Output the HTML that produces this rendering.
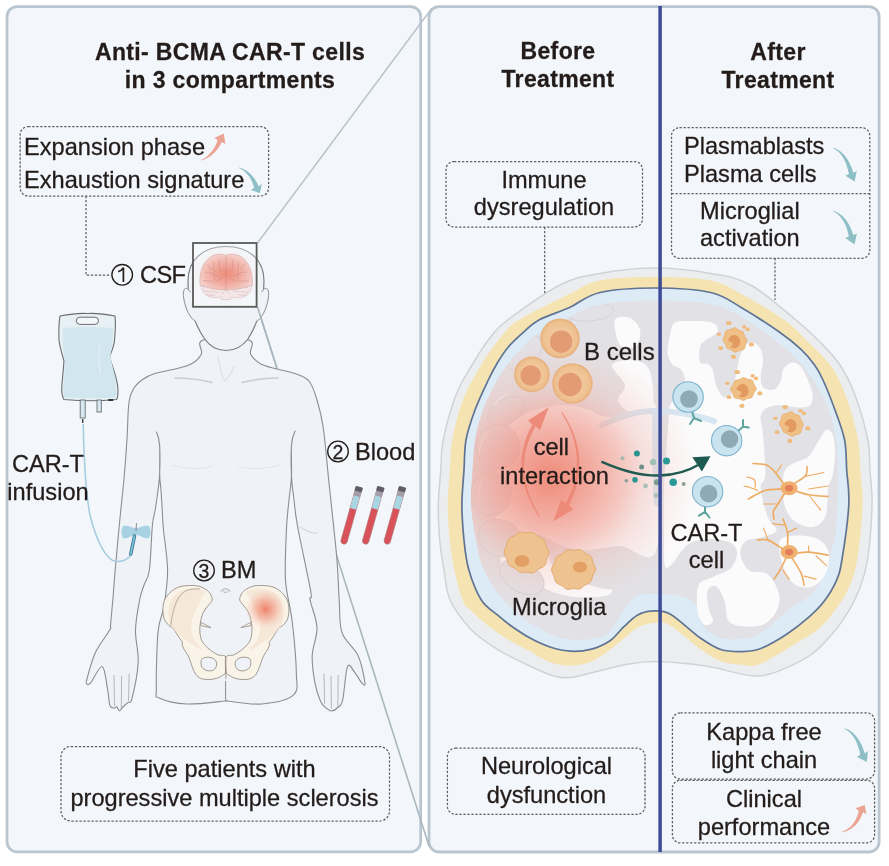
<!DOCTYPE html>
<html><head><meta charset="utf-8">
<style>
html,body{margin:0;padding:0;background:#fff;}
body{width:889px;height:866px;overflow:hidden;}
svg{display:block;}
text{font-family:"Liberation Sans",sans-serif;fill:#231c1a;stroke:#231c1a;stroke-width:0.28px;}
.b{font-weight:bold;letter-spacing:0.35px;}
</style></head><body>
<svg width="889" height="866" viewBox="0 0 889 866" style="will-change:transform">
<defs>
<radialGradient id="glowL" cx="0.5" cy="0.5" r="0.5">
 <stop offset="0" stop-color="#ef8472" stop-opacity="0.8"/>
 <stop offset="0.5" stop-color="#f09080" stop-opacity="0.4"/>
 <stop offset="1" stop-color="#f3a395" stop-opacity="0"/>
</radialGradient>
<radialGradient id="glowSoft" cx="0.5" cy="0.5" r="0.5">
 <stop offset="0" stop-color="#f19585" stop-opacity="0.75"/>
 <stop offset="0.5" stop-color="#f2a497" stop-opacity="0.45"/>
 <stop offset="1" stop-color="#f4c0b6" stop-opacity="0"/>
</radialGradient>
<radialGradient id="glowB" cx="0.5" cy="0.5" r="0.5">
 <stop offset="0" stop-color="#ee7a68" stop-opacity="0.95"/>
 <stop offset="0.5" stop-color="#f29c8a" stop-opacity="0.55"/>
 <stop offset="1" stop-color="#f6c8c0" stop-opacity="0"/>
</radialGradient>
<radialGradient id="glowP" cx="0.5" cy="0.5" r="0.5">
 <stop offset="0" stop-color="#ef8068" stop-opacity="1"/>
 <stop offset="0.5" stop-color="#f2a58f" stop-opacity="0.6"/>
 <stop offset="1" stop-color="#f6d6c6" stop-opacity="0"/>
</radialGradient>
<radialGradient id="boxGlow" cx="0.5" cy="0.5" r="0.5">
 <stop offset="0" stop-color="#f6dcd8" stop-opacity="0.9"/>
 <stop offset="1" stop-color="#f6e4e4" stop-opacity="0"/>
</radialGradient>
<radialGradient id="cereG" cx="0.5" cy="0.55" r="0.62" fx="0.5" fy="0.55">
 <stop offset="0" stop-color="#ee8b79"/>
 <stop offset="0.45" stop-color="#f1ab9f"/>
 <stop offset="1" stop-color="#f5dbd7"/>
</radialGradient>
<radialGradient id="cellG" cx="0.5" cy="0.5" r="0.5">
 <stop offset="0.5" stop-color="#f1c89b"/>
 <stop offset="0.85" stop-color="#eec08f"/>
 <stop offset="1" stop-color="#e7ae7a"/>
</radialGradient>
</defs>
<rect x="7" y="6.6" width="413.7" height="845.2" rx="10" fill="#f3f7fb" stroke="#b9c5cf" stroke-width="2.8"/>
<rect x="429" y="6.6" width="450.1" height="845.4" rx="10" fill="#f3f7fb" stroke="#b9c5cf" stroke-width="2.8"/>
<path d="M257.5,243 L432,8" stroke="#b6c3cc" stroke-width="1.4"/>
<path d="M257.5,307 L429,846" stroke="#aab7c0" stroke-width="1.6"/>
<path d="M203.2,340.0 C195.3,342.3 203.3,349.9 201.4,353.9 C199.5,357.8 196.0,361.2 191.6,363.7 C187.2,366.2 181.2,367.4 175.0,369.0 C168.8,370.6 160.0,371.8 154.7,373.5 C149.4,375.2 146.4,376.9 143.0,379.3 C139.6,381.7 136.3,384.2 134.0,388.0 C131.7,391.8 130.2,393.5 129.0,402.0 C127.8,410.5 127.8,426.2 127.0,439.0 C126.2,451.8 125.2,465.3 124.0,478.5 C122.8,491.7 121.5,502.8 120.0,518.0 C118.5,533.2 116.4,556.3 115.2,570.0 C114.0,583.7 113.6,590.8 112.8,600.0 C112.0,609.2 111.0,620.0 110.5,625.0 C110.0,630.0 112.3,625.2 109.8,629.8 C107.3,634.4 99.1,644.5 95.3,652.7 C91.5,660.9 88.4,673.9 86.9,679.0 C85.5,684.1 86.0,682.8 86.6,683.5 C87.2,684.2 87.8,686.0 90.4,683.2 C93.0,680.4 99.3,665.5 102.2,666.6 C105.1,667.7 106.4,683.5 107.7,690.0 C109.0,696.5 108.8,702.4 109.8,705.4 C110.8,708.4 112.8,707.8 114.0,708.0 C115.2,708.2 115.8,706.3 116.7,706.8 C117.6,707.3 118.6,710.9 119.5,711.0 C120.4,711.1 120.9,708.9 122.3,707.5 C123.7,706.1 126.2,704.1 127.8,702.6 C129.4,701.1 130.3,705.1 132.0,698.4 C133.7,691.7 137.6,673.7 138.2,662.4 C138.8,651.1 135.3,640.9 135.5,630.5 C135.7,620.1 138.2,607.6 139.6,600.0 C141.0,592.4 142.4,590.0 144.0,585.0 C145.6,580.0 148.0,580.0 149.4,570.0 C150.8,560.0 151.4,535.0 152.4,525.0 C153.4,515.0 154.3,515.8 155.2,510.0 C156.1,504.2 157.3,495.8 158.0,490.0 C158.7,484.2 159.3,482.5 159.6,475.0 C159.9,467.5 160.1,452.2 159.6,445.0 C159.1,437.8 156.5,432.0 156.5,432.0 C156.5,432.0 159.1,437.8 159.6,445.0 C160.1,452.2 159.5,467.5 159.7,475.0 C159.9,482.5 160.6,484.2 161.0,490.0 C161.4,495.8 161.8,503.3 162.2,510.0 C162.6,516.7 162.6,520.0 163.5,530.0 C164.4,540.0 167.5,557.3 167.6,570.0 C167.7,582.7 165.6,595.7 164.0,606.0 C162.4,616.3 159.3,618.2 158.0,632.0 C156.7,645.8 156.1,678.0 156.3,689.0 C156.5,700.0 154.1,695.5 159.2,698.0 C164.3,700.5 175.9,703.5 187.0,704.0 C198.1,704.5 218.9,701.5 225.6,701.0 C232.3,700.5 220.9,700.5 227.0,701.0 C233.1,701.5 250.9,705.0 262.0,704.0 C273.1,703.0 287.7,700.5 293.4,695.2 C299.1,689.9 296.5,684.5 296.3,672.0 C296.1,659.5 293.8,635.3 292.0,620.0 C290.2,604.7 286.4,595.5 285.5,580.0 C284.6,564.5 286.0,540.3 286.6,527.0 C287.2,513.7 288.2,508.5 289.0,500.0 C289.8,491.5 291.1,485.2 291.5,476.0 C291.9,466.8 290.9,452.5 291.5,445.0 C292.1,437.5 295.0,431.0 295.0,431.0 C295.0,431.0 292.1,437.5 291.5,445.0 C290.9,452.5 291.1,466.8 291.5,476.0 C291.9,485.2 293.0,491.5 294.0,500.0 C295.0,508.5 294.9,511.8 297.7,527.0 C300.5,542.2 308.6,578.8 310.7,591.0 C312.8,603.2 309.1,593.9 310.1,600.0 C311.2,606.1 316.6,618.5 317.0,627.7 C317.4,637.0 312.5,646.2 312.2,655.5 C311.9,664.8 313.6,675.6 315.0,683.2 C316.4,690.8 318.7,697.1 320.5,701.2 C322.3,705.3 324.1,706.4 326.0,708.0 C327.9,709.6 329.6,711.1 331.6,711.0 C333.6,710.9 336.0,709.4 337.8,707.5 C339.6,705.6 341.1,706.6 342.7,699.8 C344.3,693.0 345.5,671.2 347.5,666.6 C349.5,662.0 352.1,669.3 354.5,672.1 C356.9,674.9 360.3,681.5 362.0,683.2 C363.7,684.9 365.6,687.1 364.9,682.5 C364.2,677.9 361.8,663.8 358.0,655.5 C354.2,647.2 345.1,641.9 342.0,632.6 C338.9,623.4 340.1,612.7 339.2,600.0 C338.3,587.3 338.4,576.6 336.7,556.6 C334.9,536.6 330.9,501.4 328.7,480.0 C326.5,458.6 325.2,441.3 323.3,428.0 C321.4,414.7 319.4,407.8 317.0,400.0 C314.6,392.2 312.7,385.4 309.0,381.0 C305.3,376.6 300.3,375.5 295.0,373.5 C289.7,371.5 282.8,370.6 277.0,369.0 C271.2,367.4 264.8,366.2 260.4,363.7 C256.0,361.2 252.5,357.8 250.6,353.9 C248.7,349.9 256.7,342.3 248.8,340.0 C240.9,337.7 211.1,337.7 203.2,340.0Z" fill="#eff2f6" stroke="#8a8d91" stroke-width="1.1" stroke-linejoin="round"/>
<path d="M204,338 C194,323 188,302 188,281 C188,259 204,246.5 226,246.5 C248,246.5 264,259 264,281 C264,302 258,323 248,339 C242,347 234,350.5 226,350.5 C218,350.5 210,347 204,338Z" fill="#eff2f6" stroke="#7b7e82" stroke-width="1.2"/>
<path d="M190.5,292 C185,284 182,290 184,300 C186,310 190,318 196,322" fill="#eff2f6" stroke="#8a8d91" stroke-width="1"/>
<path d="M261.5,292 C267,284 270,290 268,300 C266,310 262,318 256,322" fill="#eff2f6" stroke="#8a8d91" stroke-width="1"/>
<path d="M257.5,307 L276.5,367" stroke="#aab7c0" stroke-width="1.6"/>
<path d="M114,675 L114.5,706 M121.6,676 L121.3,708 M129.2,673.5 L128.5,701 M338.2,675 L337.8,707 M331,676 L331.4,709 M324,673.5 L324.6,704" fill="none" stroke="#a5a8ac" stroke-width="0.8"/>
<path d="M300,527 C306,531 312,534 318,533" fill="none" stroke="#d5d8dc" stroke-width="1.2"/>
<path d="M175,378 C190,378 202,380 212,382.5" fill="none" stroke="#c9ccd0" stroke-width="1.4" stroke-linecap="round"/>
<path d="M242,382.5 C252,380 264,378 278,378" fill="none" stroke="#c9ccd0" stroke-width="1.4" stroke-linecap="round"/>
<path d="M218,356 C220,368 222,378 225,381 C228,378 232,372 234,366" fill="none" stroke="#dde0e4" stroke-width="1.2"/>
<path d="M171,465 C185,469 200,470 212,466 M238,466 C250,470 265,469 280,465" fill="none" stroke="#e2e5e9" stroke-width="1"/>
<path d="M225.6,681 L225.6,700" fill="none" stroke="#8a8d91" stroke-width="1"/>
<path d="M60,316 C70,314 80,313 87.4,313.5 C95,313 105,314 115,316 C116,325 115,335 114.5,340 C114,348 110,354 109.6,357.7 C112,365 118,380 118,390 C118,396 117,399 116.6,399.5 C105,400.5 98,400.7 91.6,400.7 C80,400.7 70,400 63.9,399.5 C62,396 61.5,392 61.8,388 C62,380 64,366 63.9,360.5 C62,354 59.5,346 59,340 C58.6,330 59,322 60,316Z" fill="#e6f0f5" stroke="#6b6e70" stroke-width="1.1"/>
<path d="M63.2,328 C75,327 100,327 113,328 C113,340 111,350 110.5,357.5 C113,368 116.5,382 116.5,391 C116.5,395 116,397 115.5,397.5 C100,398.5 80,398.5 64.5,397.5 C63.5,393 63.5,388 63.6,386 C64,376 65.5,366 65,360 C63.5,352 62,342 63.2,328Z" fill="#d1e6ee"/>
<rect x="76.3" y="317.2" width="22.2" height="7.2" rx="3.6" fill="#f4f7f9" stroke="#6b6e70" stroke-width="1"/>
<path d="M100,346 C98,355 98,365 101,374" fill="none" stroke="#eef6f9" stroke-width="0.8"/>
<rect x="80.2" y="400" width="5" height="18" fill="#d8eaf1" stroke="#6b6e70" stroke-width="0.9"/>
<rect x="97" y="400" width="4.3" height="12" fill="#d8eaf1" stroke="#6b6e70" stroke-width="0.9"/>
<rect x="108.2" y="399" width="5" height="2" fill="#333"/>
<path d="M83.2,424 C84,460 86,495 90,515 C96,540 106,560 116,561.5 C124,562 129,558 131.5,554" fill="none" stroke="#a7cde0" stroke-width="1.6"/>
<path d="M82.7,419 L82.7,423" stroke="#444" stroke-width="1.5"/>
<path d="M123,526 C127,524 131,528 136,528 C141,528 145,524 149,526 C151,530 151,535 149,538 C145,540 141,535 136,535 C131,535 127,540 123,538 C121,535 121,530 123,526Z" fill="#a9d1e4"/>
<path d="M136.5,523 L136,531" stroke="#6b7a82" stroke-width="0.8"/>
<path d="M134.5,536 L130.8,554" stroke="#2f6f8a" stroke-width="3.4" stroke-linecap="round"/>
<path d="M134.5,536 L130.8,554" stroke="#78c3d8" stroke-width="1.8" stroke-linecap="round"/>
<g transform="translate(351.4,515.1) rotate(15.8)"><rect x="-3.2" y="-28" width="6.4" height="58" rx="3.2" fill="#d9525a" stroke="#b07070" stroke-width="0.6"/><rect x="-3.2" y="-20" width="6.4" height="13.5" fill="#a9d4e2"/><rect x="-3.4" y="-25" width="6.8" height="5.2" fill="#a19eaa"/><rect x="-3.8" y="-29.5" width="7.6" height="5" rx="1" fill="#5f5d68"/></g>
<g transform="translate(373.0,515.1) rotate(15.8)"><rect x="-3.2" y="-28" width="6.4" height="58" rx="3.2" fill="#d9525a" stroke="#b07070" stroke-width="0.6"/><rect x="-3.2" y="-20" width="6.4" height="13.5" fill="#a9d4e2"/><rect x="-3.4" y="-25" width="6.8" height="5.2" fill="#a19eaa"/><rect x="-3.8" y="-29.5" width="7.6" height="5" rx="1" fill="#5f5d68"/></g>
<g transform="translate(394.6,515.1) rotate(15.8)"><rect x="-3.2" y="-28" width="6.4" height="58" rx="3.2" fill="#d9525a" stroke="#b07070" stroke-width="0.6"/><rect x="-3.2" y="-20" width="6.4" height="13.5" fill="#a9d4e2"/><rect x="-3.4" y="-25" width="6.8" height="5.2" fill="#a19eaa"/><rect x="-3.8" y="-29.5" width="7.6" height="5" rx="1" fill="#5f5d68"/></g>
<path d="M212.0,600.2 C212.4,598.5 211.7,596.6 210.9,595.0 C210.1,593.3 208.9,591.7 207.0,590.2 C205.0,588.8 202.0,587.1 199.1,586.3 C196.2,585.5 193.1,585.4 189.6,585.5 C186.2,585.6 181.9,585.9 178.6,587.1 C175.3,588.3 172.3,590.4 170.0,592.6 C167.6,594.8 165.6,597.6 164.4,600.5 C163.3,603.4 162.9,606.8 162.9,609.9 C162.9,613.1 163.4,616.7 164.4,619.4 C165.5,622.0 167.7,624.2 169.2,625.7 C170.6,627.1 172.1,627.0 173.1,628.0 C174.2,629.1 174.3,630.1 175.5,632.0 C176.7,633.8 179.0,637.3 180.2,639.1 C181.4,640.8 182.2,641.3 182.6,642.2 C182.9,643.1 181.8,643.4 182.1,644.6 C182.3,645.7 183.1,647.5 184.1,649.3 C185.1,651.1 187.1,653.8 188.1,655.6 C189.0,657.4 189.2,658.2 190.0,660.3 C190.7,662.4 191.8,665.8 192.8,668.2 C193.8,670.6 194.6,672.8 195.9,674.5 C197.3,676.2 198.6,677.6 200.7,678.4 C202.8,679.3 205.9,679.5 208.5,679.5 C211.2,679.5 214.1,679.1 216.4,678.4 C218.8,677.7 221.2,676.3 222.7,675.3 C224.2,674.2 225.0,675.1 225.6,672.1 C226.1,669.1 227.1,660.1 225.9,657.2 C224.6,654.3 220.7,656.1 218.0,654.8 C215.2,653.5 212.0,651.5 209.3,649.3 C206.7,647.1 203.8,644.3 202.2,641.4 C200.7,638.5 200.1,635.4 199.9,632.0 C199.6,628.6 200.0,624.4 200.7,620.9 C201.3,617.5 202.5,614.1 203.8,611.5 C205.1,608.9 207.2,607.1 208.5,605.2 C209.9,603.3 211.6,601.9 212.0,600.2Z" fill="#faf3e8" stroke="#8a817a" stroke-width="0.8"/>
<path d="M239.8,600.2 C239.4,598.5 240.1,596.6 240.9,595.0 C241.7,593.3 242.9,591.7 244.8,590.2 C246.8,588.8 249.8,587.1 252.7,586.3 C255.6,585.5 258.7,585.4 262.2,585.5 C265.6,585.6 269.9,585.9 273.2,587.1 C276.5,588.3 279.5,590.4 281.8,592.6 C284.2,594.8 286.2,597.6 287.4,600.5 C288.5,603.4 288.9,606.8 288.9,609.9 C288.9,613.1 288.4,616.7 287.4,619.4 C286.3,622.0 284.1,624.2 282.6,625.7 C281.2,627.1 279.7,627.0 278.7,628.0 C277.6,629.1 277.5,630.1 276.3,632.0 C275.1,633.8 272.8,637.3 271.6,639.1 C270.4,640.8 269.6,641.3 269.2,642.2 C268.9,643.1 270.0,643.4 269.7,644.6 C269.5,645.7 268.7,647.5 267.7,649.3 C266.7,651.1 264.7,653.8 263.7,655.6 C262.8,657.4 262.6,658.2 261.8,660.3 C261.1,662.4 260.0,665.8 259.0,668.2 C258.0,670.6 257.2,672.8 255.9,674.5 C254.5,676.2 253.2,677.6 251.1,678.4 C249.0,679.3 245.9,679.5 243.3,679.5 C240.6,679.5 237.7,679.1 235.4,678.4 C233.0,677.7 230.6,676.3 229.1,675.3 C227.6,674.2 226.8,675.1 226.2,672.1 C225.7,669.1 224.7,660.1 225.9,657.2 C227.2,654.3 231.1,656.1 233.8,654.8 C236.6,653.5 239.8,651.5 242.5,649.3 C245.1,647.1 248.0,644.3 249.6,641.4 C251.1,638.5 251.7,635.4 251.9,632.0 C252.2,628.6 251.8,624.4 251.1,620.9 C250.5,617.5 249.3,614.1 248.0,611.5 C246.7,608.9 244.6,607.1 243.3,605.2 C241.9,603.3 240.2,601.9 239.8,600.2Z" fill="#faf3e8" stroke="#8a817a" stroke-width="0.8"/>
<path d="M170.7,625.7 C169.6,622.8 168.5,618.3 168.4,614.6 C168.3,611.0 168.8,606.9 170.0,603.6 C171.1,600.3 173.0,597.3 175.5,595.0 C178.0,592.7 181.5,590.8 184.9,589.8 C188.3,588.7 192.5,588.3 195.9,588.7 C199.4,589.0 204.3,590.4 205.4,591.8 C206.4,593.3 203.6,594.8 202.2,597.3 C200.9,599.8 199.1,603.4 197.5,606.8 C195.9,610.2 193.8,614.4 192.8,617.8 C191.7,621.2 191.0,623.6 191.2,627.2 C191.5,630.9 192.5,636.2 194.4,639.8 C196.2,643.5 202.2,648.2 202.2,649.3 C202.2,650.3 197.5,648.0 194.4,646.1 C191.2,644.3 186.5,640.6 183.3,638.3 C180.2,635.9 177.6,634.1 175.5,632.0 C173.4,629.9 171.9,628.6 170.7,625.7Z" fill="#f3dfcc" opacity="0.55"/>
<path d="M281.1,625.7 C282.2,622.8 283.3,618.3 283.4,614.6 C283.5,611.0 283.0,606.9 281.8,603.6 C280.7,600.3 278.8,597.3 276.3,595.0 C273.8,592.7 270.3,590.8 266.9,589.8 C263.5,588.7 259.3,588.3 255.9,588.7 C252.4,589.0 247.5,590.4 246.4,591.8 C245.4,593.3 248.2,594.8 249.6,597.3 C250.9,599.8 252.7,603.4 254.3,606.8 C255.9,610.2 258.0,614.4 259.0,617.8 C260.1,621.2 260.8,623.6 260.6,627.2 C260.3,630.9 259.3,636.2 257.4,639.8 C255.6,643.5 249.6,648.2 249.6,649.3 C249.6,650.3 254.3,648.0 257.4,646.1 C260.6,644.3 265.3,640.6 268.5,638.3 C271.6,635.9 274.2,634.1 276.3,632.0 C278.4,629.9 279.9,628.6 281.1,625.7Z" fill="#f3dfcc" opacity="0.55"/>
<path d="M170.7,625.7 C175,592 185,588 200,589" fill="none" stroke="#8a817a" stroke-width="0.6"/>
<path d="M202.2,658.7 C203.5,657.8 206.4,657.0 208.5,657.2 C210.6,657.3 213.5,658.2 214.8,659.5 C216.2,660.8 217.0,663.3 216.7,665.0 C216.5,666.8 214.9,669.2 213.3,670.1 C211.6,671.0 208.8,671.0 207.0,670.6 C205.1,670.1 203.2,668.7 202.2,667.4 C201.2,666.1 201.0,664.1 201.0,662.7 C201.0,661.2 201.0,659.7 202.2,658.7Z" fill="#eff2f6" stroke="#8a817a" stroke-width="0.8"/>
<path d="M249.6,658.7 C248.3,657.8 245.4,657.0 243.3,657.2 C241.2,657.3 238.3,658.2 237.0,659.5 C235.6,660.8 234.8,663.3 235.1,665.0 C235.3,666.8 236.9,669.2 238.5,670.1 C240.2,671.0 243.0,671.0 244.8,670.6 C246.7,670.1 248.6,668.7 249.6,667.4 C250.6,666.1 250.8,664.1 250.8,662.7 C250.8,661.2 250.8,659.7 249.6,658.7Z" fill="#eff2f6" stroke="#8a817a" stroke-width="0.8"/>
<path d="M200.7,622.2 L210.9,627.6 L201.0,625.7 Z" fill="#faf3e8" stroke="#8a817a" stroke-width="0.7"/>
<path d="M251.1,622.2 L240.9,627.6 L250.8,625.7 Z" fill="#faf3e8" stroke="#8a817a" stroke-width="0.7"/>
<path d="M225.9,657 L225.9,679" stroke="#8a817a" stroke-width="0.7"/>
<circle cx="265.5" cy="609" r="21" fill="url(#glowP)"/>
<path d="M220.5,591.5 C222.5,588 228.5,588 230.5,591.5 M222,590.5 C224,593 227,593 229,590.5" fill="none" stroke="#9a9da1" stroke-width="0.8"/>
<rect x="193" y="243" width="63.6" height="63.8" fill="#ffffff" fill-opacity="0.3"/>
<ellipse cx="226" cy="276" rx="33" ry="30" fill="url(#boxGlow)"/>
<path d="M200.5,283 C201,290 204,295 210,297 C215,298.5 219,297 221,297 L221.5,299.5 L230.5,299.5 L231,297 C234,297 238,298.5 243,297 C249,295 252,290 252,283 Z" fill="#f4e6e7" stroke="#cdb4b8" stroke-width="0.5"/>
<path d="M203,287 c2,-2 4,1 6,-1 c2,2 4,-1 6,1 c2,-2 3,2 5,0 M231,287 c2,-2 4,1 6,-1 c2,2 4,-1 6,1 c2,-2 3,2 5,0 M204,291 c2,-1 3,2 5,0 c2,2 3,-1 5,1 c2,-1 3,2 5,0 M233,291 c2,-1 3,2 5,0 c2,2 3,-1 5,1 c2,-1 3,2 5,0 M206,295 c2,-1 3,1 5,0 c2,1 3,-1 4,1 M238,295 c2,-1 3,1 5,0 c2,1 3,-1 4,1 M222,294 l4,-4 l4,4" fill="none" stroke="#cdb3b8" stroke-width="0.55"/>
<path d="M200,285 C199,272 203,261 212,256 C217,253.5 222,253.5 225.5,255.5 C229,253.5 234,253.5 240,256 C249,261 253,272 252.5,285 C244,288 236,290 226,290 C216,290 208,288 200,285Z" fill="url(#cereG)" stroke="#cba2a2" stroke-width="0.5"/>
<path d="M226,256 L226,289 M213,262 c2,4 -1,7 2,10 c-3,3 1,6 -1,9 M239,262 c-2,4 1,7 -2,10 c3,3 -1,6 1,9 M205,272 c3,1 5,-1 8,2 c2,2 4,1 6,3 M247,272 c-3,1 -5,-1 -8,2 c-2,2 -4,1 -6,3 M219,259 c1,5 -1,9 2,13 M233,259 c-1,5 1,9 -2,13 M203,281 c4,-1 7,1 10,0 M249,281 c-4,-1 -7,1 -10,0 M207,264 c3,2 2,5 5,6 M245,264 c-3,2 -2,5 -5,6 M216,282 c2,-3 5,-2 6,-5 M236,282 c-2,-3 -5,-2 -6,-5" fill="none" stroke="#c98884" stroke-width="0.55" opacity="0.85"/>
<rect x="193" y="243" width="63.6" height="63.8" fill="none" stroke="#5b5957" stroke-width="1.8"/>
<text x="230" y="59.7" font-size="23" text-anchor="middle" class="b">Anti- BCMA CAR-T cells</text>
<text x="230" y="87.6" font-size="23" text-anchor="middle" class="b">in 3 compartments</text>
<rect x="20.2" y="126.6" width="248.4" height="69.4" rx="8" fill="none" stroke="#5f5f5f" stroke-width="1.25" stroke-dasharray="2.3 1.7"/>
<text x="24" y="155.3" font-size="23.6">Expansion phase</text>
<text x="24" y="187.6" font-size="23.6">Exhaustion signature</text>
<path d="M86 196 V275.2 H111" fill="none" stroke="#5f5f5f" stroke-width="1.25" stroke-dasharray="2.3 1.7"/>
<circle cx="122.2" cy="274.8" r="10.3" fill="none" stroke="#231c1a" stroke-width="1.3"/>
<path d="M123.4,267.6 V282.0 M123.4,267.6 C122.2,269.8 119.7,271.2 118.2,271.6" fill="none" stroke="#231c1a" stroke-width="1.7"/>
<text x="140" y="283.1" font-size="23.6" letter-spacing="-0.6">CSF</text>
<text x="48" y="472" font-size="23.6" text-anchor="middle">CAR-T</text>
<text x="48" y="499.8" font-size="23.6" text-anchor="middle">infusion</text>
<circle cx="338" cy="451.5" r="10.3" fill="none" stroke="#231c1a" stroke-width="1.3"/>
<text x="338" y="458.5" font-size="19.5" text-anchor="middle">2</text>
<text x="355" y="459.6" font-size="23.6">Blood</text>
<circle cx="204" cy="570.5" r="10.3" fill="none" stroke="#231c1a" stroke-width="1.3"/>
<text x="204" y="577.5" font-size="19.5" text-anchor="middle">3</text>
<text x="221" y="578.3" font-size="23.6">BM</text>
<rect x="61" y="746.5" width="328.5" height="74.5" rx="10" fill="none" stroke="#5f5f5f" stroke-width="1.25" stroke-dasharray="2.3 1.7"/>
<text x="224.5" y="776.7" font-size="23.6" text-anchor="middle">Five patients with</text>
<text x="224.5" y="806" font-size="23.6" text-anchor="middle">progressive multiple sclerosis</text>
<path d="M655.0,267.9 C673.4,267.9 694.7,270.5 710.6,273.4 C726.5,276.2 736.4,277.2 750.6,285.0 C764.8,292.8 784.6,310.7 796.0,320.0 C807.4,329.3 811.5,333.3 818.8,340.8 C826.1,348.3 834.0,356.0 840.0,365.0 C846.0,374.0 850.4,382.5 855.0,395.0 C859.6,407.5 865.3,427.5 867.8,440.0 C870.3,452.5 869.2,459.2 869.9,470.0 C870.6,480.8 872.4,490.0 872.0,505.0 C871.6,520.0 869.5,546.2 867.5,560.0 C865.5,573.8 863.5,578.5 859.9,587.7 C856.3,596.9 851.8,606.4 846.0,615.4 C840.2,624.4 832.2,634.6 825.0,642.0 C817.8,649.4 813.3,654.3 802.5,660.0 C791.7,665.7 774.8,674.8 760.0,676.0 C745.2,677.2 725.4,669.5 713.9,667.5 C702.4,665.5 701.0,665.0 691.2,664.0 C681.4,663.0 665.4,661.5 655.0,661.5 C644.6,661.5 639.7,662.1 629.1,664.0 C618.5,665.9 601.3,670.5 591.6,672.7 C581.9,675.0 577.7,677.2 570.8,677.5 C563.9,677.8 560.5,678.4 550.0,674.7 C539.5,671.0 518.0,660.4 508.1,655.4 C498.2,650.4 497.2,649.5 490.8,645.0 C484.4,640.5 476.8,635.9 470.0,628.4 C463.2,620.9 454.5,609.8 450.1,600.0 C445.8,590.2 445.6,579.8 443.9,569.8 C442.2,559.8 440.6,550.8 439.7,540.0 C438.8,529.2 438.1,516.7 438.3,505.0 C438.5,493.3 440.0,480.8 440.8,470.0 C441.6,459.2 440.7,452.5 443.2,440.0 C445.7,427.5 451.2,407.5 456.0,395.0 C460.8,382.5 466.3,374.6 472.0,365.0 C477.7,355.4 484.4,344.8 490.4,337.3 C496.3,329.8 496.1,328.7 507.7,320.0 C519.3,311.3 544.6,292.8 560.0,285.0 C575.4,277.2 584.2,276.2 600.0,273.4 C615.8,270.5 636.6,267.9 655.0,267.9Z" fill="#ecedee" stroke="#d0d3d6" stroke-width="1.5"/>
<path d="M655.0,276.9 C673.4,276.9 696.2,277.5 710.6,280.4 C725.0,283.3 729.3,287.6 741.6,294.2 C753.9,300.8 773.0,311.9 784.2,320.0 C795.5,328.1 802.3,336.4 809.1,342.9 C815.9,349.4 820.4,353.4 825.0,358.8 C829.6,364.2 832.8,367.7 836.8,375.4 C840.8,383.1 845.5,394.2 849.0,405.0 C852.5,415.8 856.2,429.2 858.1,440.0 C860.0,450.8 859.5,459.2 860.3,470.0 C861.0,480.8 863.1,490.0 862.6,505.0 C862.1,520.0 859.4,546.2 857.1,560.0 C854.8,573.8 852.3,579.6 848.8,587.7 C845.3,595.8 841.1,601.8 836.3,608.5 C831.5,615.2 826.0,622.2 819.8,627.7 C813.6,633.2 809.0,635.6 799.0,641.6 C789.0,647.6 769.6,660.1 760.0,664.0 C750.4,667.9 748.1,665.2 741.6,664.7 C735.1,664.2 727.7,663.9 720.8,661.3 C713.9,658.6 708.5,654.8 700.0,648.8 C691.5,642.8 677.5,629.6 670.0,625.3 C662.5,621.0 660.4,622.4 655.0,622.8 C649.6,623.1 642.9,624.8 637.7,627.4 C632.5,630.0 628.5,634.8 623.9,638.5 C619.3,642.2 615.4,645.8 610.0,649.6 C604.6,653.5 598.1,658.9 591.6,661.6 C585.1,664.3 577.7,665.6 570.8,665.7 C563.9,665.8 556.8,664.7 550.0,662.3 C543.2,659.9 536.4,654.8 530.0,651.3 C523.6,647.8 518.1,645.5 511.6,641.6 C505.1,637.7 497.7,633.0 490.8,627.7 C483.9,622.4 474.7,614.3 470.0,609.7 C465.3,605.1 465.2,606.6 462.6,600.0 C460.0,593.4 456.4,579.8 454.3,569.8 C452.2,559.8 450.9,550.8 449.8,540.0 C448.7,529.2 447.7,516.7 447.7,505.0 C447.7,493.3 449.2,480.8 450.0,470.0 C450.8,459.2 450.0,451.7 452.2,440.0 C454.4,428.3 458.4,412.1 463.0,400.0 C467.6,387.9 476.0,374.4 480.0,367.1 C484.0,359.8 483.4,361.0 486.9,356.0 C490.4,351.0 495.5,343.3 500.8,337.3 C506.1,331.3 507.4,327.2 518.8,320.0 C530.2,312.8 555.5,300.8 569.0,294.2 C582.5,287.6 585.7,283.3 600.0,280.4 C614.3,277.5 636.6,276.9 655.0,276.9Z" fill="#f5e4b1"/>
<path d="M655.0,288.0 C673.4,288.0 696.2,289.2 710.6,292.5 C725.0,295.8 730.0,301.0 741.6,307.7 C753.2,314.4 770.1,325.6 780.0,332.5 C789.9,339.4 795.0,343.7 800.8,349.1 C806.6,354.5 810.9,359.9 814.6,365.0 C818.3,370.1 819.6,372.5 823.0,380.0 C826.4,387.5 831.4,400.0 835.0,410.0 C838.6,420.0 842.6,430.0 844.6,440.0 C846.6,450.0 846.0,459.2 846.7,470.0 C847.4,480.8 849.6,490.0 848.8,505.0 C848.0,520.0 844.0,547.4 841.9,560.0 C839.8,572.6 839.3,573.9 836.3,580.8 C833.3,587.7 828.3,595.7 823.9,601.6 C819.5,607.5 816.1,610.7 810.0,616.1 C803.9,621.5 795.3,628.5 787.0,634.0 C778.7,639.5 767.6,645.9 760.0,648.8 C752.4,651.7 748.1,651.5 741.6,651.6 C735.1,651.7 727.7,651.8 720.8,649.5 C713.9,647.2 708.5,643.6 700.0,637.7 C691.5,631.8 678.1,618.3 670.0,613.9 C661.9,609.5 657.0,610.9 651.6,611.1 C646.2,611.3 642.3,612.4 637.7,615.0 C633.1,617.6 628.5,622.4 623.9,626.7 C619.3,631.0 615.4,637.1 610.0,640.8 C604.6,644.5 598.1,647.4 591.6,649.1 C585.1,650.8 577.7,651.6 570.8,651.2 C563.9,650.9 556.8,649.2 550.0,647.0 C543.2,644.8 536.4,641.6 530.0,638.1 C523.6,634.6 517.0,630.1 511.6,626.3 C506.2,622.5 502.8,619.6 497.7,615.2 C492.6,610.8 486.1,607.6 481.3,600.0 C476.5,592.4 471.7,579.8 468.8,569.8 C465.9,559.8 465.1,550.8 464.0,540.0 C462.9,529.2 461.9,516.7 461.9,505.0 C461.9,493.3 463.3,480.8 464.0,470.0 C464.7,459.2 464.2,450.0 466.0,440.0 C467.8,430.0 471.3,420.0 475.0,410.0 C478.7,400.0 484.6,387.8 488.3,380.0 C492.0,372.2 494.1,368.4 497.3,363.0 C500.5,357.6 503.6,352.6 507.7,347.7 C511.8,342.8 516.4,338.5 521.6,333.9 C526.8,329.3 531.0,324.4 538.9,320.0 C546.8,315.6 558.8,312.3 569.0,307.7 C579.2,303.1 585.7,295.8 600.0,292.5 C614.3,289.2 636.6,288.0 655.0,288.0Z" fill="#ddebf6" stroke="#5f7494" stroke-width="1.7"/>
<path d="M655.0,300.5 C673.4,300.4 696.2,301.2 710.6,304.0 C725.0,306.8 730.9,311.0 741.6,317.0 C752.3,323.0 766.1,333.3 775.0,340.0 C783.9,346.7 789.2,351.2 795.0,357.0 C800.8,362.8 805.5,368.7 810.0,375.0 C814.5,381.3 818.3,387.5 822.0,395.0 C825.7,402.5 829.5,410.8 832.0,420.0 C834.5,429.2 836.3,440.0 837.3,450.0 C838.3,460.0 838.2,466.7 838.0,480.0 C837.8,493.3 837.2,518.0 836.0,530.0 C834.8,542.0 832.7,544.9 831.0,552.0 C829.3,559.1 829.0,565.4 825.6,572.6 C822.2,579.8 816.6,589.0 810.6,595.1 C804.6,601.2 796.4,603.9 789.6,609.0 C782.8,614.1 775.3,621.8 770.0,626.0 C764.7,630.2 762.7,632.3 758.0,634.5 C753.3,636.7 747.8,638.6 741.6,639.1 C735.4,639.6 727.1,639.7 720.8,637.7 C714.4,635.7 707.0,631.6 703.5,627.3 C700.0,623.0 702.2,616.5 700.0,612.0 C697.8,607.5 694.2,602.8 690.0,600.0 C685.8,597.2 680.8,596.0 675.0,595.0 C669.2,594.0 660.8,594.0 655.0,594.0 C649.2,594.0 644.7,593.2 640.0,595.0 C635.3,596.8 632.0,598.9 627.0,605.0 C622.0,611.1 615.9,626.2 610.0,631.8 C604.1,637.4 598.1,637.4 591.6,638.7 C585.1,640.0 577.7,640.2 570.8,639.4 C563.9,638.6 556.8,636.6 550.0,633.9 C543.2,631.2 536.7,627.5 530.0,623.0 C523.3,618.5 515.8,612.5 510.0,607.0 C504.2,601.5 499.7,597.0 495.0,590.0 C490.3,583.0 485.2,573.3 482.0,565.0 C478.8,556.7 477.8,550.0 476.0,540.0 C474.2,530.0 471.6,516.7 471.0,505.0 C470.4,493.3 471.9,480.8 472.6,470.0 C473.3,459.2 473.3,450.0 475.0,440.0 C476.7,430.0 479.5,419.7 483.0,410.0 C486.5,400.3 492.0,389.5 496.0,382.0 C500.0,374.5 503.0,370.3 507.0,365.0 C511.0,359.7 515.3,354.8 520.0,350.0 C524.7,345.2 526.8,341.4 535.0,336.0 C543.2,330.6 558.2,322.8 569.0,317.5 C579.8,312.2 585.7,307.3 600.0,304.5 C614.3,301.7 636.6,300.6 655.0,300.5Z" fill="#e2e1e5"/>
<path d="M667.7,352.7 C667.3,347.8 668.9,340.0 670.0,335.0 C671.1,330.0 671.3,325.0 674.6,322.7 C677.9,320.4 683.6,321.0 690.0,321.0 C696.4,321.0 708.1,320.9 712.7,322.7 C717.3,324.5 718.5,329.1 717.4,332.0 C716.2,334.9 708.7,337.5 705.8,340.0 C702.9,342.5 701.0,343.3 700.0,347.0 C699.0,350.7 698.7,359.1 700.0,362.0 C701.3,364.9 705.9,363.0 708.0,364.3 C710.1,365.6 711.5,367.1 712.7,370.0 C713.9,372.9 714.1,378.3 715.0,381.6 C715.9,384.9 716.5,387.4 718.0,390.0 C719.5,392.6 721.8,396.2 724.0,397.0 C726.2,397.8 729.3,397.2 731.0,395.0 C732.7,392.8 733.0,388.2 734.0,384.0 C735.0,379.8 736.0,374.7 737.0,370.0 C738.0,365.3 738.7,360.0 740.0,356.0 C741.3,352.0 743.0,348.3 745.0,346.0 C747.0,343.7 749.4,341.5 752.0,342.0 C754.6,342.5 758.9,345.6 760.7,349.0 C762.5,352.4 763.0,358.0 763.0,362.5 C763.0,367.0 760.7,371.9 760.7,376.0 C760.7,380.1 760.8,384.9 763.0,387.2 C765.2,389.4 771.2,390.6 774.2,389.5 C777.2,388.4 779.5,383.9 781.0,380.5 C782.5,377.1 781.3,372.2 783.2,369.2 C785.1,366.2 789.2,362.9 792.2,362.5 C795.2,362.1 798.6,364.0 801.2,367.0 C803.8,370.0 806.1,376.0 808.0,380.5 C809.9,385.0 812.1,389.9 812.5,394.0 C812.9,398.1 812.5,402.9 810.2,405.2 C808.0,407.4 803.9,407.5 799.0,407.5 C794.1,407.5 786.2,405.2 781.0,405.2 C775.8,405.2 770.9,405.6 767.5,407.5 C764.1,409.4 761.5,412.0 760.7,416.5 C760.0,421.0 762.2,424.8 763.0,434.5 C763.8,444.2 765.6,466.2 765.2,475.0 C764.8,483.8 760.3,480.6 760.7,487.5 C761.1,494.4 764.9,509.6 767.5,516.7 C770.1,523.8 777.2,526.8 776.5,530.2 C775.8,533.6 768.2,535.1 763.0,537.0 C757.8,538.9 748.8,538.5 745.0,541.5 C741.2,544.5 739.8,550.1 740.5,555.0 C741.2,559.9 745.0,567.5 749.5,570.7 C754.0,573.9 762.6,570.1 767.5,574.0 C772.4,577.9 777.6,587.7 779.0,594.0 C780.4,600.3 778.8,606.8 776.0,612.0 C773.2,617.2 768.0,622.7 762.0,625.0 C756.0,627.3 745.7,626.8 740.0,626.0 C734.3,625.2 730.5,623.8 728.0,620.0 C725.5,616.2 726.5,608.2 725.0,603.0 C723.5,597.8 721.2,591.8 719.0,589.0 C716.8,586.2 714.0,585.3 712.0,586.0 C710.0,586.7 707.5,589.0 707.0,593.0 C706.5,597.0 708.0,605.3 709.0,610.0 C710.0,614.7 713.7,618.5 713.0,621.0 C712.3,623.5 707.5,626.2 705.0,625.0 C702.5,623.8 699.3,618.8 698.0,614.0 C696.7,609.2 696.7,601.2 697.0,596.0 C697.3,590.8 697.3,586.2 700.0,583.0 C702.7,579.8 707.8,579.5 713.0,577.0 C718.2,574.5 727.0,572.0 731.0,568.0 C735.0,564.0 737.0,557.2 737.0,553.0 C737.0,548.8 735.0,545.3 731.0,543.0 C727.0,540.7 719.5,539.2 713.0,539.0 C706.5,538.8 697.5,539.7 692.0,542.0 C686.5,544.3 683.2,549.5 680.0,553.0 C676.8,556.5 675.5,560.8 673.0,563.0 C670.5,565.2 666.5,571.1 665.0,566.0 C663.5,560.9 664.2,545.6 664.0,532.5 C663.8,519.4 663.6,500.8 664.0,487.5 C664.4,474.2 665.5,463.6 666.2,452.5 C667.0,441.4 667.9,428.9 668.5,421.0 C669.1,413.1 668.1,409.3 670.0,405.0 C671.9,400.7 677.5,398.9 680.0,395.0 C682.5,391.1 684.7,385.8 685.0,381.6 C685.3,377.4 683.7,372.9 681.6,370.0 C679.5,367.1 674.6,367.2 672.3,364.3 C670.0,361.4 668.1,357.6 667.7,352.7Z" fill="#fbfbfc"/>
<path d="M817.0,443.5 C820.0,439.0 823.4,431.5 826.0,430.0 C828.6,428.5 831.2,430.8 832.7,434.5 C834.2,438.2 835.0,445.8 835.0,452.5 C835.0,459.2 833.8,469.2 832.7,475.0 C831.6,480.8 829.3,480.9 828.2,487.5 C827.1,494.1 827.9,508.1 826.0,514.5 C824.1,520.9 820.8,523.8 817.0,525.7 C813.2,527.6 808.0,527.2 803.5,525.7 C799.0,524.2 793.4,521.2 790.0,516.7 C786.6,512.2 784.3,505.4 783.2,498.7 C782.1,491.9 782.1,481.8 783.2,476.2 C784.3,470.6 785.9,468.2 790.0,465.0 C794.1,461.8 803.5,460.6 808.0,457.0 C812.5,453.4 814.0,448.0 817.0,443.5Z" fill="#fbfbfc"/>
<path d="M781.0,539.0 C785.9,534.1 804.6,535.1 812.5,537.0 C820.4,538.9 826.0,544.5 828.2,550.5 C830.5,556.5 828.6,567.0 826.0,573.0 C823.4,579.0 817.8,584.6 812.5,586.5 C807.2,588.4 799.4,587.6 794.5,584.2 C789.6,580.8 785.5,573.7 783.2,566.2 C781.0,558.7 776.1,543.9 781.0,539.0Z" fill="#fbfbfc"/>
<path d="M615.0,320.0 C616.7,315.5 625.8,316.3 630.0,318.0 C634.2,319.7 639.0,325.3 640.0,330.0 C641.0,334.7 639.3,343.5 636.0,346.0 C632.7,348.5 623.5,349.3 620.0,345.0 C616.5,340.7 613.3,324.5 615.0,320.0Z" fill="#fbfbfc"/>
<path d="M612.0,365.0 C613.7,360.8 628.7,358.8 635.0,360.0 C641.3,361.2 647.2,363.7 650.0,372.0 C652.8,380.3 655.3,403.3 652.0,410.0 C648.7,416.7 635.7,413.7 630.0,412.0 C624.3,410.3 618.8,404.5 618.0,400.0 C617.2,395.5 626.0,390.8 625.0,385.0 C624.0,379.2 610.3,369.2 612.0,365.0Z" fill="#fbfbfc"/>
<path d="M500.0,532.0 C502.5,527.8 507.5,527.8 515.0,530.0 C522.5,532.2 538.8,539.2 545.0,545.0 C551.2,550.8 547.0,559.2 552.0,565.0 C557.0,570.8 567.0,576.2 575.0,580.0 C583.0,583.8 593.8,586.3 600.0,588.0 C606.2,589.7 611.2,588.7 612.0,590.0 C612.8,591.3 611.2,594.8 605.0,596.0 C598.8,597.2 584.5,598.0 575.0,597.0 C565.5,596.0 555.5,593.7 548.0,590.0 C540.5,586.3 537.2,578.3 530.0,575.0 C522.8,571.7 510.0,573.3 505.0,570.0 C500.0,566.7 500.8,561.3 500.0,555.0 C499.2,548.7 497.5,536.2 500.0,532.0Z" fill="#fbfbfc"/>
<path d="M606.0,417.0 C614.3,417.7 631.5,414.8 640.0,414.0 C648.5,413.2 654.2,389.7 657.0,412.0 C659.8,434.3 663.2,525.7 657.0,548.0 C650.8,570.3 632.0,545.7 620.0,546.0 C608.0,546.3 595.0,550.2 585.0,550.0 C575.0,549.8 567.5,547.5 560.0,545.0 C552.5,542.5 546.7,536.2 540.0,535.0 C533.3,533.8 526.7,539.7 520.0,538.0 C513.3,536.3 505.0,531.3 500.0,525.0 C495.0,518.7 490.8,508.3 490.0,500.0 C489.2,491.7 492.5,483.3 495.0,475.0 C497.5,466.7 502.5,458.3 505.0,450.0 C507.5,441.7 505.0,431.7 510.0,425.0 C515.0,418.3 525.8,413.3 535.0,410.0 C544.2,406.7 555.8,405.0 565.0,405.0 C574.2,405.0 583.2,408.0 590.0,410.0 C596.8,412.0 597.7,416.3 606.0,417.0Z" fill="#fbfbfc" opacity="0.9"/>
<path d="M602,425 C620,416 640,410 657,411 C675,411 695,415 714,421" fill="none" stroke="#d6e6f2" stroke-width="6" stroke-linecap="round"/>
<path d="M657,414 C656,440 657,470 658,502" fill="none" stroke="#d6e6f2" stroke-width="9" stroke-linecap="round"/>
<clipPath id="clipBE"><path d="M655.0,300.5 C673.4,300.4 696.2,301.2 710.6,304.0 C725.0,306.8 730.9,311.0 741.6,317.0 C752.3,323.0 766.1,333.3 775.0,340.0 C783.9,346.7 789.2,351.2 795.0,357.0 C800.8,362.8 805.5,368.7 810.0,375.0 C814.5,381.3 818.3,387.5 822.0,395.0 C825.7,402.5 829.5,410.8 832.0,420.0 C834.5,429.2 836.3,440.0 837.3,450.0 C838.3,460.0 838.2,466.7 838.0,480.0 C837.8,493.3 837.2,518.0 836.0,530.0 C834.8,542.0 832.7,544.9 831.0,552.0 C829.3,559.1 829.0,565.4 825.6,572.6 C822.2,579.8 816.6,589.0 810.6,595.1 C804.6,601.2 796.4,603.9 789.6,609.0 C782.8,614.1 775.3,621.8 770.0,626.0 C764.7,630.2 762.7,632.3 758.0,634.5 C753.3,636.7 747.8,638.6 741.6,639.1 C735.4,639.6 727.1,639.7 720.8,637.7 C714.4,635.7 707.0,631.6 703.5,627.3 C700.0,623.0 702.2,616.5 700.0,612.0 C697.8,607.5 694.2,602.8 690.0,600.0 C685.8,597.2 680.8,596.0 675.0,595.0 C669.2,594.0 660.8,594.0 655.0,594.0 C649.2,594.0 644.7,593.2 640.0,595.0 C635.3,596.8 632.0,598.9 627.0,605.0 C622.0,611.1 615.9,626.2 610.0,631.8 C604.1,637.4 598.1,637.4 591.6,638.7 C585.1,640.0 577.7,640.2 570.8,639.4 C563.9,638.6 556.8,636.6 550.0,633.9 C543.2,631.2 536.7,627.5 530.0,623.0 C523.3,618.5 515.8,612.5 510.0,607.0 C504.2,601.5 499.7,597.0 495.0,590.0 C490.3,583.0 485.2,573.3 482.0,565.0 C478.8,556.7 477.8,550.0 476.0,540.0 C474.2,530.0 471.6,516.7 471.0,505.0 C470.4,493.3 471.9,480.8 472.6,470.0 C473.3,459.2 473.3,450.0 475.0,440.0 C476.7,430.0 479.5,419.7 483.0,410.0 C486.5,400.3 492.0,389.5 496.0,382.0 C500.0,374.5 503.0,370.3 507.0,365.0 C511.0,359.7 515.3,354.8 520.0,350.0 C524.7,345.2 526.8,341.4 535.0,336.0 C543.2,330.6 558.2,322.8 569.0,317.5 C579.8,312.2 585.7,307.3 600.0,304.5 C614.3,301.7 636.6,300.6 655.0,300.5Z"/></clipPath>
<g clip-path="url(#clipBE)">
<ellipse cx="506" cy="411" rx="20" ry="12" transform="rotate(-30 506 411)" fill="#e2e1e5" stroke="#d6d2d9" stroke-width="0.9"/>
<ellipse cx="498" cy="447" rx="22" ry="22" transform="rotate(0 498 447)" fill="#e2e1e5" stroke="#d6d2d9" stroke-width="0.9"/>
<ellipse cx="491" cy="494" rx="20" ry="22" transform="rotate(0 491 494)" fill="#e2e1e5" stroke="#d6d2d9" stroke-width="0.9"/>
<ellipse cx="500" cy="538" rx="22" ry="18" transform="rotate(20 500 538)" fill="#e2e1e5" stroke="#d6d2d9" stroke-width="0.9"/>
<ellipse cx="522" cy="577" rx="24" ry="15" transform="rotate(30 522 577)" fill="#e2e1e5" stroke="#d6d2d9" stroke-width="0.9"/>
<ellipse cx="522" cy="352" rx="22" ry="15" transform="rotate(-35 522 352)" fill="#e2e1e5" stroke="#d6d2d9" stroke-width="0.9"/>
<ellipse cx="550" cy="324" rx="22" ry="11" transform="rotate(-20 550 324)" fill="#e2e1e5" stroke="#d6d2d9" stroke-width="0.9"/>
<ellipse cx="590" cy="312" rx="24" ry="9" transform="rotate(-5 590 312)" fill="#e2e1e5" stroke="#d6d2d9" stroke-width="0.9"/>
<path d="M487,432 C483,438 480,446 479,452" fill="none" stroke="#ffffff" stroke-width="1.3" stroke-linecap="round" opacity="0.7"/>
<path d="M484,478 C480,484 478,492 478,498" fill="none" stroke="#ffffff" stroke-width="1.3" stroke-linecap="round" opacity="0.7"/>
<path d="M495,404 C499,399 503,396 507,394" fill="none" stroke="#ffffff" stroke-width="1.3" stroke-linecap="round" opacity="0.7"/>
<path d="M512,345 C516,339 521,335 527,333" fill="none" stroke="#ffffff" stroke-width="1.3" stroke-linecap="round" opacity="0.7"/>
</g>
<clipPath id="clipDL"><path d="M655.0,300.5 C673.4,300.4 696.2,301.2 710.6,304.0 C725.0,306.8 730.9,311.0 741.6,317.0 C752.3,323.0 766.1,333.3 775.0,340.0 C783.9,346.7 789.2,351.2 795.0,357.0 C800.8,362.8 805.5,368.7 810.0,375.0 C814.5,381.3 818.3,387.5 822.0,395.0 C825.7,402.5 829.5,410.8 832.0,420.0 C834.5,429.2 836.3,440.0 837.3,450.0 C838.3,460.0 838.2,466.7 838.0,480.0 C837.8,493.3 837.2,518.0 836.0,530.0 C834.8,542.0 832.7,544.9 831.0,552.0 C829.3,559.1 829.0,565.4 825.6,572.6 C822.2,579.8 816.6,589.0 810.6,595.1 C804.6,601.2 796.4,603.9 789.6,609.0 C782.8,614.1 775.3,621.8 770.0,626.0 C764.7,630.2 762.7,632.3 758.0,634.5 C753.3,636.7 747.8,638.6 741.6,639.1 C735.4,639.6 727.1,639.7 720.8,637.7 C714.4,635.7 707.0,631.6 703.5,627.3 C700.0,623.0 702.2,616.5 700.0,612.0 C697.8,607.5 694.2,602.8 690.0,600.0 C685.8,597.2 680.8,596.0 675.0,595.0 C669.2,594.0 660.8,594.0 655.0,594.0 C649.2,594.0 644.7,593.2 640.0,595.0 C635.3,596.8 632.0,598.9 627.0,605.0 C622.0,611.1 615.9,626.2 610.0,631.8 C604.1,637.4 598.1,637.4 591.6,638.7 C585.1,640.0 577.7,640.2 570.8,639.4 C563.9,638.6 556.8,636.6 550.0,633.9 C543.2,631.2 536.7,627.5 530.0,623.0 C523.3,618.5 515.8,612.5 510.0,607.0 C504.2,601.5 499.7,597.0 495.0,590.0 C490.3,583.0 485.2,573.3 482.0,565.0 C478.8,556.7 477.8,550.0 476.0,540.0 C474.2,530.0 471.6,516.7 471.0,505.0 C470.4,493.3 471.9,480.8 472.6,470.0 C473.3,459.2 473.3,450.0 475.0,440.0 C476.7,430.0 479.5,419.7 483.0,410.0 C486.5,400.3 492.0,389.5 496.0,382.0 C500.0,374.5 503.0,370.3 507.0,365.0 C511.0,359.7 515.3,354.8 520.0,350.0 C524.7,345.2 526.8,341.4 535.0,336.0 C543.2,330.6 558.2,322.8 569.0,317.5 C579.8,312.2 585.7,307.3 600.0,304.5 C614.3,301.7 636.6,300.6 655.0,300.5Z"/></clipPath>
<g clip-path="url(#clipDL)">
<ellipse cx="550" cy="475" rx="150" ry="135" fill="url(#glowSoft)"/>
<ellipse cx="550" cy="478" rx="95" ry="90" fill="url(#glowL)"/>
</g>
<circle cx="560" cy="338.4" r="19.8" fill="url(#cellG)"/>
<circle cx="561.1" cy="341.7" r="11.2" fill="#e39b73"/>
<circle cx="531.9" cy="374.4" r="17.8" fill="url(#cellG)"/>
<circle cx="530.7" cy="375.5" r="10.3" fill="#e39b73"/>
<circle cx="572.4" cy="383.4" r="20.2" fill="url(#cellG)"/>
<circle cx="570.1" cy="384.5" r="11.7" fill="#e39b73"/>
<path d="M548.9,552.5 C549.0,554.6 547.3,556.8 546.6,559.0 C545.9,561.2 545.9,564.0 544.6,565.6 C543.2,567.3 540.5,567.9 538.6,569.1 C536.6,570.3 535.1,572.3 533.1,572.8 C531.1,573.3 528.7,572.2 526.5,572.1 C524.3,572.0 522.0,573.0 520.1,572.3 C518.1,571.7 516.8,569.6 515.0,568.4 C513.1,567.2 510.5,566.7 509.1,565.1 C507.8,563.5 507.7,561.0 506.9,558.9 C506.1,556.8 504.2,554.6 504.1,552.5 C504.0,550.4 505.7,548.2 506.4,546.0 C507.1,543.8 507.1,541.0 508.4,539.4 C509.8,537.7 512.5,537.1 514.4,535.9 C516.4,534.7 517.9,532.7 519.9,532.2 C521.9,531.7 524.3,532.8 526.5,532.9 C528.7,533.0 531.0,532.0 532.9,532.7 C534.9,533.3 536.2,535.4 538.0,536.6 C539.9,537.8 542.5,538.3 543.9,539.9 C545.2,541.5 545.3,544.0 546.1,546.1 C546.9,548.2 548.8,550.4 548.9,552.5Z" fill="#efc38f" stroke="#e2aa6e" stroke-width="1"/>
<ellipse cx="522" cy="561" rx="7.5" ry="6" fill="#e3a064"/>
<path d="M595.5,569.5 C595.4,571.6 593.5,573.7 592.7,575.7 C591.9,577.8 591.9,580.4 590.6,581.9 C589.3,583.5 586.6,583.9 584.8,585.1 C583.0,586.2 581.7,588.3 579.8,588.9 C577.9,589.5 575.6,588.5 573.5,588.5 C571.4,588.6 569.0,589.8 567.1,589.3 C565.1,588.8 563.7,586.8 561.8,585.6 C559.9,584.4 557.2,583.9 555.9,582.3 C554.6,580.7 554.6,578.0 553.9,575.9 C553.2,573.7 551.5,571.6 551.5,569.5 C551.6,567.4 553.5,565.3 554.3,563.3 C555.1,561.2 555.1,558.6 556.4,557.1 C557.7,555.5 560.4,555.1 562.2,553.9 C564.0,552.8 565.3,550.7 567.2,550.1 C569.1,549.5 571.4,550.5 573.5,550.5 C575.6,550.4 578.0,549.2 579.9,549.7 C581.9,550.2 583.3,552.2 585.2,553.4 C587.1,554.6 589.8,555.1 591.1,556.7 C592.4,558.3 592.4,561.0 593.1,563.1 C593.8,565.3 595.5,567.4 595.5,569.5Z" fill="#efc38f" stroke="#e2aa6e" stroke-width="1"/>
<ellipse cx="580" cy="567" rx="7" ry="5.5" fill="#e3a064"/>
<path d="M540.1,516.7 L536.6,510.7 L533.5,504.8 L530.8,498.9 L528.6,493.0 L526.9,487.2 L525.5,481.4 L524.6,475.7 L524.1,470.0 L524.1,464.4 L524.5,458.8 L525.3,453.3 L526.5,447.8 L528.1,442.4 L530.2,437.0 L532.7,431.7 L535.6,426.3 L540.0,430.3 L548.8,407.3 L528.0,420.5 L532.4,424.5 L529.5,430.1 L527.0,435.7 L525.0,441.4 L523.5,447.1 L522.4,452.8 L521.7,458.6 L521.5,464.4 L521.7,470.2 L522.4,476.0 L523.5,481.8 L525.1,487.7 L527.0,493.6 L529.4,499.5 L532.3,505.4 L535.6,511.3 L539.3,517.3Z" fill="#ec8674" opacity="0.9"/>
<path d="M561.4,412.8 L564.8,418.4 L567.8,424.1 L570.3,429.7 L572.4,435.4 L574.2,441.1 L575.4,446.7 L576.3,452.4 L576.8,458.0 L576.8,463.7 L576.5,469.4 L575.7,475.0 L574.5,480.7 L572.9,486.4 L570.9,492.1 L568.4,497.8 L565.6,503.5 L561.3,499.4 L553.2,521.2 L573.3,509.4 L569.0,505.3 L571.8,499.3 L574.1,493.3 L576.0,487.4 L577.5,481.4 L578.6,475.5 L579.2,469.6 L579.4,463.7 L579.2,457.9 L578.5,452.1 L577.5,446.3 L576.0,440.6 L574.0,434.8 L571.7,429.1 L569.0,423.5 L565.8,417.8 L562.2,412.2Z" fill="#ec8674" opacity="0.9"/>
<circle cx="636.9" cy="453.5" r="3" fill="#2a9490"/>
<circle cx="622.5" cy="458.2" r="2" fill="#a8b8b0"/>
<circle cx="653.1" cy="462.1" r="3.2" fill="#a0bfb5"/>
<circle cx="641.6" cy="466.9" r="2.5" fill="#6f9088"/>
<circle cx="666.5" cy="461.1" r="3.5" fill="#2a9a98"/>
<circle cx="635" cy="479.7" r="2.8" fill="#2a9490"/>
<circle cx="626.3" cy="480.8" r="1.8" fill="#8aa098"/>
<circle cx="645.5" cy="486" r="2.4" fill="#a8c0b8"/>
<circle cx="656.9" cy="482.2" r="3" fill="#7f9a90"/>
<circle cx="673.2" cy="482.2" r="3.8" fill="#2a9a98"/>
<circle cx="683.7" cy="484.1" r="2" fill="#8aa098"/>
<circle cx="656" cy="495.5" r="2.3" fill="#a8c0b8"/>
<path d="M602.4,462.1 C625,472 645,476 660,475.5 C675,475 690,470 700,464" fill="none" stroke="#1e5a4f" stroke-width="2.6" stroke-linecap="round"/>
<path d="M710.5,456.3 L692.3,457.3 L701.9,471.6Z" fill="#1e5a4f"/>
<path d="M692,411 L694,418 L690,424 M694,418 L701,421" fill="none" stroke="#5aa59c" stroke-width="2" stroke-linecap="round" stroke-linejoin="round"/>
<circle cx="688.1" cy="397" r="15.2" fill="#c9e3ef" stroke="#7db3cc" stroke-width="1.1"/>
<circle cx="689" cy="399" r="8.8" fill="#8eaab4"/>
<path d="M738,431 L743,426.7 L748.7,427.6 M743,426.7 L743,420" fill="none" stroke="#5aa59c" stroke-width="2" stroke-linecap="round" stroke-linejoin="round"/>
<circle cx="726.7" cy="440.7" r="15.2" fill="#c9e3ef" stroke="#7db3cc" stroke-width="1.1"/>
<circle cx="729.6" cy="439.1" r="8.8" fill="#8eaab4"/>
<path d="M705,506 L705,511.8 L699,515.6 M705,511.8 L709.5,517.5" fill="none" stroke="#5aa59c" stroke-width="2" stroke-linecap="round" stroke-linejoin="round"/>
<circle cx="707.6" cy="491.7" r="15.2" fill="#c9e3ef" stroke="#7db3cc" stroke-width="1.1"/>
<circle cx="708.6" cy="493.6" r="8.8" fill="#8eaab4"/>
<path d="M747.0,340.0 C747.2,341.4 746.0,342.8 745.5,344.3 C745.0,345.8 745.1,348.0 744.1,349.1 C743.0,350.1 740.9,350.1 739.4,350.6 C737.9,351.1 736.4,352.4 735.0,352.2 C733.6,352.0 732.3,350.4 731.0,349.7 C729.7,349.0 727.9,349.0 726.9,348.1 C726.0,347.1 726.1,345.3 725.5,344.0 C724.8,342.6 723.2,341.4 723.0,340.0 C722.8,338.6 724.0,337.2 724.5,335.7 C725.0,334.2 724.9,332.0 725.9,330.9 C727.0,329.9 729.1,329.9 730.6,329.4 C732.1,328.9 733.6,327.6 735.0,327.8 C736.4,328.0 737.7,329.6 739.0,330.3 C740.3,331.0 742.1,331.0 743.1,331.9 C744.0,332.9 743.9,334.7 744.5,336.0 C745.2,337.4 746.8,338.6 747.0,340.0Z" fill="#efbf85" stroke="#e9ae70" stroke-width="0.8"/>
<path d="M730,337 c5,-5 11,0 10,6 c-1,6 -7,6 -10,4 c3,-1 4,-4 1,-5 c-3,-1 -4,-2 -1,-5z" fill="#e39a60"/>
<ellipse cx="733.5" cy="356.9" rx="2.6" ry="2.1" fill="#efbb7e"/>
<ellipse cx="720.7" cy="348.2" rx="2.4" ry="1.9" fill="#efbb7e"/>
<ellipse cx="719.0" cy="334.2" rx="2.2" ry="1.8" fill="#efbb7e"/>
<ellipse cx="728.8" cy="323.1" rx="2.8" ry="2.2" fill="#efbb7e"/>
<ellipse cx="744.2" cy="326.9" rx="2.2" ry="1.8" fill="#efbb7e"/>
<ellipse cx="751.4" cy="344.4" rx="2.6" ry="2.1" fill="#efbb7e"/>
<ellipse cx="747.6" cy="329.4" rx="2.3" ry="1.8" fill="#efbb7e"/>
<path d="M756.2,389.0 C756.1,390.4 754.4,391.9 753.7,393.3 C753.0,394.7 752.8,396.5 751.8,397.4 C750.7,398.2 748.7,397.9 747.3,398.5 C745.9,399.0 744.7,400.4 743.4,400.4 C742.1,400.5 740.8,399.3 739.3,398.8 C737.9,398.4 735.7,398.7 734.6,397.8 C733.5,396.9 733.4,394.9 732.7,393.4 C732.0,392.0 730.6,390.4 730.6,389.0 C730.7,387.6 732.4,386.1 733.1,384.7 C733.8,383.3 734.0,381.5 735.0,380.6 C736.1,379.8 738.1,380.1 739.5,379.5 C740.9,379.0 742.1,377.6 743.4,377.6 C744.7,377.5 746.0,378.7 747.5,379.2 C748.9,379.6 751.1,379.3 752.2,380.2 C753.3,381.1 753.4,383.1 754.1,384.6 C754.8,386.0 756.2,387.6 756.2,389.0Z" fill="#efbf85" stroke="#e9ae70" stroke-width="0.8"/>
<path d="M738.4,386 c5,-5 11,0 10,6 c-1,6 -7,6 -10,4 c3,-1 4,-4 1,-5 c-3,-1 -4,-2 -1,-5z" fill="#e39a60"/>
<ellipse cx="741.9" cy="405.9" rx="2.6" ry="2.1" fill="#efbb7e"/>
<ellipse cx="729.1" cy="397.2" rx="2.4" ry="1.9" fill="#efbb7e"/>
<ellipse cx="727.4" cy="383.2" rx="2.2" ry="1.8" fill="#efbb7e"/>
<ellipse cx="737.2" cy="372.1" rx="2.8" ry="2.2" fill="#efbb7e"/>
<ellipse cx="752.6" cy="375.9" rx="2.2" ry="1.8" fill="#efbb7e"/>
<ellipse cx="759.8" cy="393.4" rx="2.6" ry="2.1" fill="#efbb7e"/>
<ellipse cx="756.0" cy="378.4" rx="2.3" ry="1.8" fill="#efbb7e"/>
<path d="M803.3,424.0 C803.5,425.4 802.3,426.8 801.8,428.3 C801.3,429.8 801.4,432.0 800.4,433.0 C799.4,434.1 797.3,434.1 795.8,434.7 C794.3,435.2 792.8,436.5 791.4,436.3 C790.0,436.1 788.7,434.5 787.4,433.7 C786.0,433.0 784.2,433.0 783.3,432.1 C782.4,431.1 782.6,429.3 781.9,427.9 C781.3,426.6 779.7,425.4 779.5,424.0 C779.3,422.6 780.5,421.2 781.0,419.7 C781.5,418.2 781.4,416.0 782.4,415.0 C783.4,413.9 785.5,413.9 787.0,413.3 C788.5,412.8 790.0,411.5 791.4,411.7 C792.8,411.9 794.1,413.5 795.4,414.3 C796.8,415.0 798.6,415.0 799.5,415.9 C800.4,416.9 800.2,418.7 800.9,420.1 C801.5,421.4 803.1,422.6 803.3,424.0Z" fill="#efbf85" stroke="#e9ae70" stroke-width="0.8"/>
<path d="M786.4,421 c5,-5 11,0 10,6 c-1,6 -7,6 -10,4 c3,-1 4,-4 1,-5 c-3,-1 -4,-2 -1,-5z" fill="#e39a60"/>
<ellipse cx="789.9" cy="440.9" rx="2.6" ry="2.1" fill="#efbb7e"/>
<ellipse cx="777.1" cy="432.2" rx="2.4" ry="1.9" fill="#efbb7e"/>
<ellipse cx="775.4" cy="418.2" rx="2.2" ry="1.8" fill="#efbb7e"/>
<ellipse cx="785.2" cy="407.1" rx="2.8" ry="2.2" fill="#efbb7e"/>
<ellipse cx="800.6" cy="410.9" rx="2.2" ry="1.8" fill="#efbb7e"/>
<ellipse cx="807.8" cy="428.4" rx="2.6" ry="2.1" fill="#efbb7e"/>
<ellipse cx="804.0" cy="413.4" rx="2.3" ry="1.8" fill="#efbb7e"/>
<path d="M783.0,489.0 C780.0,489.3 770.5,489.0 765.0,490.5 C759.5,492.0 752.8,496.7 750.0,498.0 C747.3,499.4 748.8,498.7 748.5,498.8" fill="none" stroke="#eeab62" stroke-width="1.7" stroke-linecap="round" stroke-linejoin="round"/>
<path d="M757.5,490.2 C756.3,489.8 752.3,488.2 750.0,487.5 C747.8,486.8 745.0,486.3 744.0,486.0" fill="none" stroke="#eeab62" stroke-width="1.2" stroke-linecap="round" stroke-linejoin="round"/>
<path d="M755.3,487.2 C755.1,486.0 755.9,481.7 754.5,480.0 C753.1,478.3 748.3,477.5 747.0,477.0" fill="none" stroke="#eeab62" stroke-width="1.2" stroke-linecap="round" stroke-linejoin="round"/>
<path d="M783.0,483.0 C781.5,481.0 776.8,474.0 774.0,471.0 C771.3,468.0 770.0,466.3 766.5,465.0 C763.0,463.8 755.3,463.8 753.0,463.5" fill="none" stroke="#eeab62" stroke-width="1.7" stroke-linecap="round" stroke-linejoin="round"/>
<path d="M776.3,472.5 C777.2,471.3 780.7,466.3 781.5,465.0" fill="none" stroke="#eeab62" stroke-width="1.2" stroke-linecap="round" stroke-linejoin="round"/>
<path d="M784.5,493.5 C783.3,495.5 778.9,502.5 777.0,505.5 C775.2,508.5 773.8,509.3 773.3,511.5 C772.8,513.8 773.9,517.8 774.0,519.1" fill="none" stroke="#eeab62" stroke-width="1.7" stroke-linecap="round" stroke-linejoin="round"/>
<path d="M776.3,504.0 C774.2,504.0 765.7,504.0 763.5,504.0" fill="none" stroke="#eeab62" stroke-width="1.2" stroke-linecap="round" stroke-linejoin="round"/>
<path d="M795.1,483.0 C796.8,481.8 803.6,478.3 805.6,475.5 C807.6,472.8 806.8,468.0 807.1,466.5" fill="none" stroke="#eeab62" stroke-width="1.6" stroke-linecap="round" stroke-linejoin="round"/>
<path d="M805.6,476.3 C808.6,475.6 820.6,473.1 823.6,472.5" fill="none" stroke="#eeab62" stroke-width="1.2" stroke-linecap="round" stroke-linejoin="round"/>
<path d="M796.6,491.3 C798.8,491.9 804.8,494.2 810.1,495.0 C815.3,495.9 825.1,496.3 828.1,496.5" fill="none" stroke="#eeab62" stroke-width="1.7" stroke-linecap="round" stroke-linejoin="round"/>
<path d="M810.1,496.5 C811.8,498.8 818.8,507.8 820.6,510.0" fill="none" stroke="#eeab62" stroke-width="1.2" stroke-linecap="round" stroke-linejoin="round"/>
<path d="M808.6,489.0 C811.8,488.5 824.8,486.5 828.1,486.0" fill="none" stroke="#eeab62" stroke-width="1.2" stroke-linecap="round" stroke-linejoin="round"/>
<ellipse cx="789.1" cy="488.3" rx="8.5" ry="7" fill="#efb070"/>
<ellipse cx="789.1" cy="488.3" rx="4" ry="3.3" fill="#e47f5c"/>
<path d="M787.5,546.1 C787.5,543.8 788.3,537.1 787.5,532.6 C786.8,528.1 783.8,521.3 783.0,519.1" fill="none" stroke="#eeab62" stroke-width="1.7" stroke-linecap="round" stroke-linejoin="round"/>
<path d="M787.5,532.6 C789.1,531.8 795.1,528.8 796.6,528.1" fill="none" stroke="#eeab62" stroke-width="1.2" stroke-linecap="round" stroke-linejoin="round"/>
<path d="M785.3,525.1 C783.2,524.8 774.7,523.8 772.5,523.6" fill="none" stroke="#eeab62" stroke-width="1.2" stroke-linecap="round" stroke-linejoin="round"/>
<path d="M783.0,549.1 C780.5,547.6 772.3,541.6 768.0,540.1 C763.8,538.6 759.3,540.1 757.5,540.1" fill="none" stroke="#eeab62" stroke-width="1.7" stroke-linecap="round" stroke-linejoin="round"/>
<path d="M768.0,540.1 C767.3,538.1 764.3,530.1 763.5,528.1" fill="none" stroke="#eeab62" stroke-width="1.2" stroke-linecap="round" stroke-linejoin="round"/>
<path d="M786.0,558.1 C785.0,560.1 782.0,566.6 780.0,570.1 C778.0,573.6 775.0,577.6 774.0,579.1" fill="none" stroke="#eeab62" stroke-width="1.6" stroke-linecap="round" stroke-linejoin="round"/>
<path d="M783.0,570.1 C784.0,571.6 788.1,577.6 789.1,579.1" fill="none" stroke="#eeab62" stroke-width="1.2" stroke-linecap="round" stroke-linejoin="round"/>
<path d="M795.1,553.6 C797.3,553.3 803.1,551.8 808.6,552.1 C814.1,552.3 824.8,554.6 828.1,555.1" fill="none" stroke="#eeab62" stroke-width="1.7" stroke-linecap="round" stroke-linejoin="round"/>
<path d="M808.6,552.1 C808.6,551.1 808.6,547.1 808.6,546.1" fill="none" stroke="#eeab62" stroke-width="1.2" stroke-linecap="round" stroke-linejoin="round"/>
<path d="M816.1,555.8 C817.8,557.5 824.8,564.0 826.6,565.6" fill="none" stroke="#eeab62" stroke-width="1.2" stroke-linecap="round" stroke-linejoin="round"/>
<path d="M792.1,558.1 C793.6,560.6 799.1,568.6 801.1,573.1 C803.1,577.6 803.6,583.1 804.1,585.1" fill="none" stroke="#eeab62" stroke-width="1.6" stroke-linecap="round" stroke-linejoin="round"/>
<path d="M804.1,576.1 C806.1,576.6 814.1,578.6 816.1,579.1" fill="none" stroke="#eeab62" stroke-width="1.2" stroke-linecap="round" stroke-linejoin="round"/>
<ellipse cx="789.1" cy="552.1" rx="8.5" ry="7" fill="#efb070"/>
<ellipse cx="789.1" cy="552.1" rx="4" ry="3.3" fill="#e47f5c"/>
<text x="584" y="359.8" font-size="24">B cells</text>
<text x="551.4" y="455.2" font-size="23.6" text-anchor="middle">cell</text>
<text x="554.5" y="483.7" font-size="23.6" text-anchor="middle">interaction</text>
<text x="559.2" y="615.3" font-size="23.6" text-anchor="middle">Microglia</text>
<text x="706.5" y="541" font-size="23.6" text-anchor="middle">CAR-T</text>
<text x="706.5" y="567.5" font-size="23.6" text-anchor="middle">cell</text>
<text x="558" y="59" font-size="23" text-anchor="middle" class="b">Before</text>
<text x="558" y="87" font-size="23" text-anchor="middle" class="b">Treatment</text>
<text x="778" y="60" font-size="23" text-anchor="middle" class="b">After</text>
<text x="778" y="88" font-size="23" text-anchor="middle" class="b">Treatment</text>
<rect x="446" y="161.5" width="196.5" height="65.5" rx="8" fill="none" stroke="#5f5f5f" stroke-width="1.25" stroke-dasharray="2.3 1.7"/>
<text x="544" y="188" font-size="23.6" text-anchor="middle">Immune</text>
<text x="544" y="215" font-size="23.6" text-anchor="middle">dysregulation</text>
<path d="M544.7 227 V293" fill="none" stroke="#5f5f5f" stroke-width="1.25" stroke-dasharray="2.3 1.7"/>
<rect x="671.5" y="127.7" width="198.3" height="130.6" rx="8" fill="none" stroke="#5f5f5f" stroke-width="1.25" stroke-dasharray="2.3 1.7"/>
<path d="M671.5 193.7 H869.8" fill="none" stroke="#5f5f5f" stroke-width="1.25" stroke-dasharray="2.3 1.7"/>
<path d="M775 258.3 V300" fill="none" stroke="#5f5f5f" stroke-width="1.25" stroke-dasharray="2.3 1.7"/>
<text x="684" y="153.8" font-size="23.6">Plasmablasts</text>
<text x="684" y="181.7" font-size="23.6">Plasma cells</text>
<text x="700" y="218.7" font-size="23.6">Microglial</text>
<text x="700" y="245.7" font-size="23.6">activation</text>
<rect x="447.4" y="748.2" width="197.6" height="66.1" rx="8" fill="none" stroke="#5f5f5f" stroke-width="1.25" stroke-dasharray="2.3 1.7"/>
<text x="546.5" y="774" font-size="23.6" text-anchor="middle">Neurological</text>
<text x="546.5" y="802.5" font-size="23.6" text-anchor="middle">dysfunction</text>
<rect x="672.4" y="712.8" width="202.2" height="66.2" rx="8" fill="none" stroke="#5f5f5f" stroke-width="1.25" stroke-dasharray="2.3 1.7"/>
<rect x="672.4" y="780.3" width="202.2" height="62.6" rx="8" fill="none" stroke="#5f5f5f" stroke-width="1.25" stroke-dasharray="2.3 1.7"/>
<text x="764" y="739.8" font-size="23.6" text-anchor="middle">Kappa free</text>
<text x="764" y="768.2" font-size="23.6" text-anchor="middle">light chain</text>
<text x="764" y="807.3" font-size="23.6" text-anchor="middle">Clinical</text>
<text x="764" y="834.8" font-size="23.6" text-anchor="middle">performance</text>
<path d="M201.4,160.6 L203.0,160.0 L204.6,159.3 L206.2,158.6 L207.7,157.8 L209.1,156.9 L210.5,155.9 L211.9,154.9 L213.2,153.7 L214.5,152.5 L215.7,151.2 L216.9,149.9 L218.0,148.4 L219.1,146.9 L220.1,145.3 L221.0,143.6 L221.9,141.9 L225.3,143.9 L223.8,133.4 L214.3,138.1 L217.7,140.1 L217.1,141.8 L216.4,143.4 L215.7,145.0 L215.0,146.5 L214.1,147.9 L213.3,149.3 L212.3,150.7 L211.3,151.9 L210.3,153.1 L209.2,154.3 L208.0,155.4 L206.8,156.4 L205.5,157.4 L204.1,158.4 L202.7,159.2 L201.2,160.0Z" fill="#eba393" opacity="1.0"/>
<path d="M239.0,168.1 L240.4,168.8 L241.7,169.5 L243.0,170.3 L244.2,171.2 L245.3,172.2 L246.4,173.3 L247.4,174.4 L248.4,175.6 L249.3,176.8 L250.2,178.2 L251.0,179.6 L251.7,181.1 L252.4,182.6 L253.1,184.3 L253.7,186.0 L254.2,187.8 L251.0,190.0 L259.8,193.2 L261.8,184.0 L258.6,186.2 L257.7,184.4 L256.8,182.6 L255.9,180.9 L254.9,179.3 L253.8,177.8 L252.7,176.4 L251.5,175.1 L250.3,173.8 L249.1,172.7 L247.8,171.7 L246.5,170.7 L245.1,169.9 L243.7,169.2 L242.2,168.5 L240.7,168.0 L239.2,167.5Z" fill="#8fbfc6" opacity="1.0"/>
<path d="M833.1,148.3 L834.6,149.1 L836.0,150.0 L837.3,151.0 L838.6,152.1 L839.8,153.3 L840.9,154.6 L842.0,156.0 L843.0,157.6 L844.0,159.2 L844.8,161.0 L845.7,162.8 L846.4,164.8 L847.1,166.9 L847.8,169.1 L848.3,171.4 L848.9,173.9 L845.4,175.7 L854.6,181.5 L856.8,170.9 L853.3,172.7 L852.5,170.2 L851.7,167.8 L850.7,165.5 L849.7,163.4 L848.7,161.4 L847.6,159.5 L846.4,157.7 L845.1,156.1 L843.8,154.6 L842.5,153.2 L841.1,151.9 L839.6,150.8 L838.1,149.9 L836.6,149.0 L835.0,148.3 L833.3,147.7Z" fill="#8fbfc6" opacity="1.0"/>
<path d="M833.1,211.4 L834.6,212.2 L836.0,213.0 L837.4,214.0 L838.6,215.1 L839.8,216.3 L841.0,217.6 L842.0,219.0 L843.0,220.5 L844.0,222.1 L844.8,223.8 L845.7,225.6 L846.4,227.5 L847.1,229.5 L847.8,231.7 L848.3,233.9 L848.9,236.3 L845.3,238.0 L854.6,244.5 L856.9,233.4 L853.3,235.1 L852.5,232.7 L851.6,230.3 L850.7,228.1 L849.7,226.1 L848.7,224.1 L847.5,222.2 L846.4,220.5 L845.1,218.9 L843.8,217.5 L842.5,216.1 L841.1,214.9 L839.6,213.8 L838.1,212.9 L836.6,212.1 L835.0,211.4 L833.3,210.8Z" fill="#8fbfc6" opacity="1.0"/>
<path d="M844.4,729.0 L845.9,729.7 L847.3,730.5 L848.6,731.5 L849.8,732.5 L851.0,733.7 L852.1,735.0 L853.2,736.4 L854.2,737.9 L855.1,739.6 L856.0,741.3 L856.9,743.2 L857.7,745.3 L858.4,747.4 L859.1,749.7 L859.7,752.1 L860.3,754.6 L857.0,756.9 L866.8,762.0 L868.0,751.1 L864.7,753.4 L863.9,750.8 L863.0,748.4 L862.0,746.0 L861.0,743.8 L859.9,741.8 L858.7,739.9 L857.6,738.1 L856.3,736.4 L855.0,734.9 L853.7,733.6 L852.3,732.3 L850.8,731.3 L849.3,730.3 L847.8,729.6 L846.2,728.9 L844.6,728.4Z" fill="#8fbfc6" opacity="1.0"/>
<path d="M842.4,832.3 L844.1,831.9 L845.8,831.3 L847.4,830.7 L849.0,829.9 L850.6,829.0 L852.0,828.0 L853.4,826.9 L854.8,825.7 L856.1,824.4 L857.3,823.0 L858.5,821.4 L859.5,819.8 L860.6,818.0 L861.5,816.1 L862.4,814.1 L863.2,812.1 L866.4,814.5 L864.7,805.0 L855.6,808.3 L858.8,810.7 L858.3,812.7 L857.7,814.6 L857.1,816.4 L856.4,818.1 L855.6,819.7 L854.8,821.2 L853.8,822.6 L852.9,824.0 L851.8,825.2 L850.7,826.4 L849.5,827.5 L848.2,828.5 L846.8,829.5 L845.4,830.3 L843.8,831.1 L842.2,831.7Z" fill="#eba393" opacity="1.0"/>
<line x1="660.1" y1="6" x2="660.1" y2="852" stroke="#3e4b96" stroke-width="3.5"/>
</svg>
</body></html>
